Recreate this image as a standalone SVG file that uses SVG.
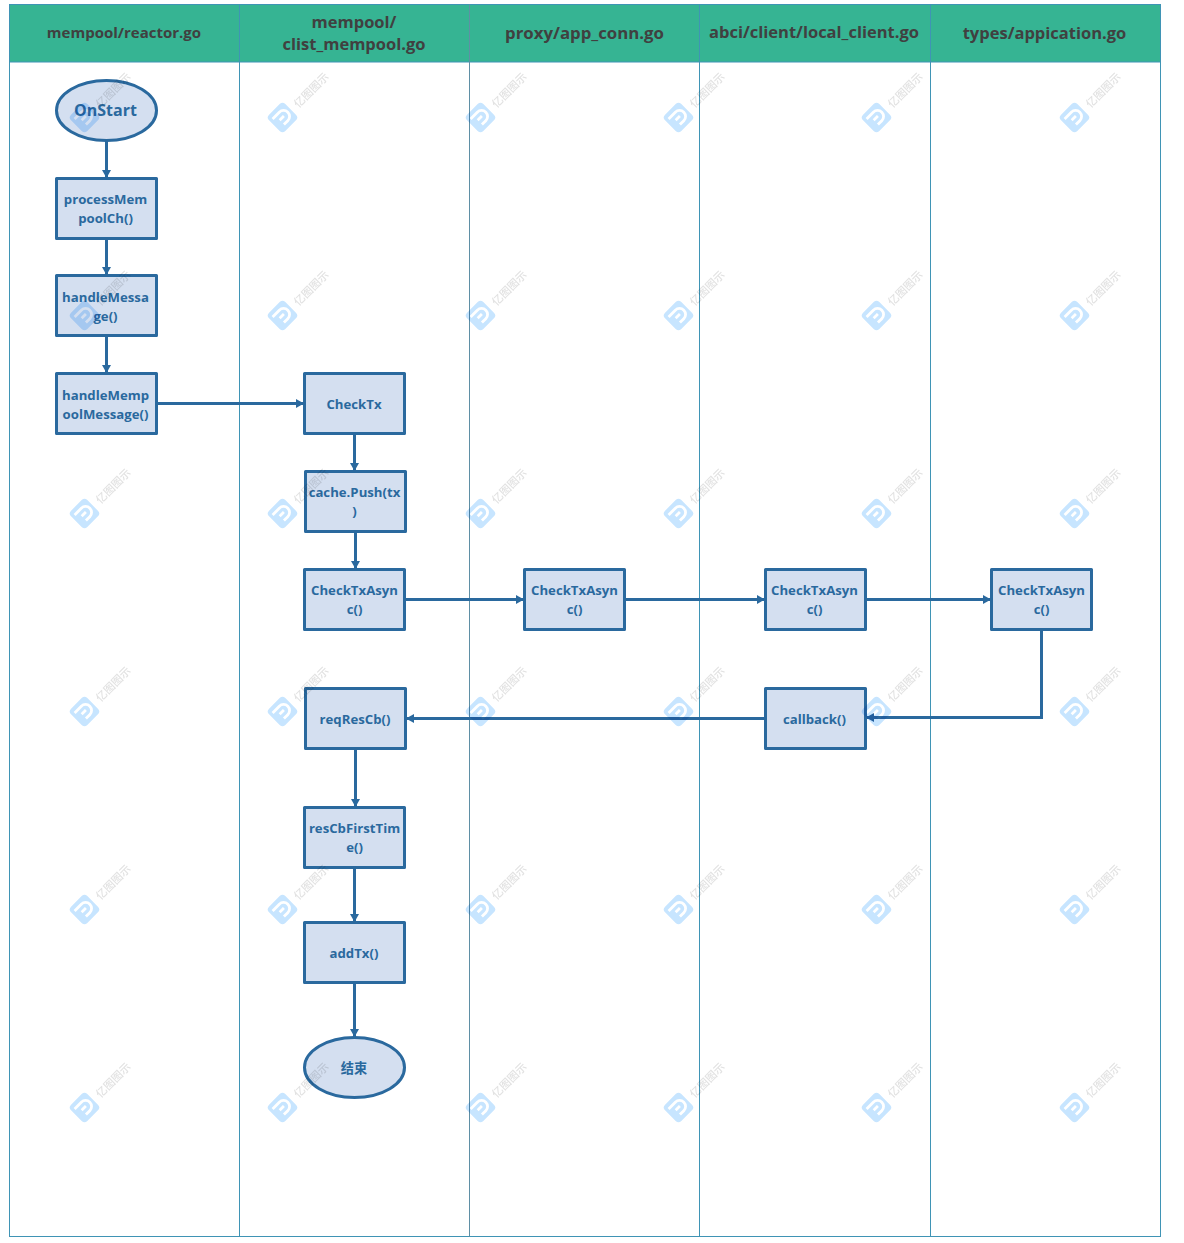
<svg xmlns="http://www.w3.org/2000/svg" width="1184" height="1243" viewBox="0 0 1184 1243">
<style>
.lane{fill:none;stroke:#3f94b5;stroke-width:1}
.hdr{font:700 16.5px "Open Sans","Noto Sans",sans-serif;fill:#404040;text-anchor:middle}
.box{fill:#d4dff0;stroke:#2a699e;stroke-width:3;stroke-linejoin:round}
.lbl{font:700 13.2px "Open Sans","Noto Sans","Noto Sans CJK SC",sans-serif;fill:#2a699e;text-anchor:middle}
.conn{fill:none;stroke:#2a699e;stroke-width:3}
.wmt{font:500 11px "Noto Sans CJK SC",sans-serif;fill:#e2e2e2}
#watermarks{mix-blend-mode:multiply}
</style>
<defs>
<marker id="arr" markerUnits="userSpaceOnUse" markerWidth="9" markerHeight="11" refX="8" refY="5.500" orient="auto"><path d="M0 1L8 5.500L0 10z" fill="#2a699e"/></marker>
<g id="wm">
<rect x="-11.500" y="-11.500" width="23" height="23" rx="4" transform="rotate(45)" fill="#c7e5ff"/>
<path d="M-8 -6H1.500A6 6 0 0 1 1.500 6H-4M-4 0H2" fill="none" stroke="#fff" stroke-width="2.800" transform="rotate(-45)"/>
<text class="wmt" transform="translate(16,-9) rotate(-45)">亿图图示</text>
</g>
</defs>
<rect width="1184" height="1243" fill="#fff"/>
<g id="swimlanes">
<rect x="9.500" y="4.500" width="1151" height="57.500" fill="#36b493"/>
<rect class="lane" x="9.500" y="4.500" width="1151" height="1232"/>
<path class="lane" d="M9.500 62H1160.500M239.500 4.500V1236.500M699.500 4.500V1236.500M930.500 4.500V1236.500"/>
<path d="M469.500 4.500V1236.500" fill="none" stroke="#5f8fa5" stroke-width="1"/>
<text class="hdr" x="124" y="38" style="font-size:15px">mempool/reactor.go</text>
<text class="hdr" x="354" y="28">mempool/</text>
<text class="hdr" x="354" y="50">clist_mempool.go</text>
<text class="hdr" x="584.500" y="39" style="font-size:16.800px">proxy/app_conn.go</text>
<text class="hdr" x="814" y="38">abci/client/local_client.go</text>
<text class="hdr" x="1044.500" y="39">types/appication.go</text>
</g>
<g id="connectors">
<path class="conn" marker-end="url(#arr)" d="M106.500 140V178"/>
<path class="conn" marker-end="url(#arr)" d="M106.500 239V275"/>
<path class="conn" marker-end="url(#arr)" d="M106.500 336V373"/>
<path class="conn" marker-end="url(#arr)" d="M157 403.500H304"/>
<path class="conn" marker-end="url(#arr)" d="M354.500 434V471"/>
<path class="conn" marker-end="url(#arr)" d="M355.500 532V569"/>
<path class="conn" marker-end="url(#arr)" d="M405 599.500H524"/>
<path class="conn" marker-end="url(#arr)" d="M625 599.500H765"/>
<path class="conn" marker-end="url(#arr)" d="M866 599.500H991"/>
<path class="conn" marker-end="url(#arr)" d="M1041.500 630V717.500H866"/>
<path class="conn" marker-end="url(#arr)" d="M765 718.500H406"/>
<path class="conn" marker-end="url(#arr)" d="M355.500 749V807"/>
<path class="conn" marker-end="url(#arr)" d="M354.500 868V922"/>
<path class="conn" marker-end="url(#arr)" d="M354.500 983V1037"/>
</g>
<g id="n-onstart"><ellipse class="box" cx="106.500" cy="110.500" rx="50" ry="30"/><text class="lbl" x="105.500" y="116" style="font-size:16px">OnStart</text></g>
<g id="n-process"><rect class="box" x="56.500" y="178.500" width="100" height="60"/><text class="lbl" x="105.500" y="204">processMem</text><text class="lbl" x="105.500" y="223">poolCh()</text></g>
<g id="n-handle"><rect class="box" x="56.500" y="275.500" width="100" height="60"/><text class="lbl" x="105.500" y="302">handleMessa</text><text class="lbl" x="105.500" y="321">ge()</text></g>
<g id="n-memp"><rect class="box" x="56.500" y="373.500" width="100" height="60"/><text class="lbl" x="105.500" y="400">handleMemp</text><text class="lbl" x="105.500" y="419">oolMessage()</text></g>
<g id="n-checktx"><rect class="box" x="304.500" y="373.500" width="100" height="60"/><text class="lbl" x="354" y="409">CheckTx</text></g>
<g id="n-cache"><rect class="box" x="305.500" y="471.500" width="100" height="60"/><text class="lbl" x="354.500" y="497">cache.Push(tx</text><text class="lbl" x="354.500" y="516">)</text></g>
<g id="n-async1"><rect class="box" x="304.500" y="569.500" width="100" height="60"/><text class="lbl" x="354.500" y="595">CheckTxAsyn</text><text class="lbl" x="354.500" y="614">c()</text></g>
<g id="n-async2"><rect class="box" x="524.500" y="569.500" width="100" height="60"/><text class="lbl" x="574.500" y="595">CheckTxAsyn</text><text class="lbl" x="574.500" y="614">c()</text></g>
<g id="n-async3"><rect class="box" x="765.500" y="569.500" width="100" height="60"/><text class="lbl" x="814.500" y="595">CheckTxAsyn</text><text class="lbl" x="814.500" y="614">c()</text></g>
<g id="n-async4"><rect class="box" x="991.500" y="569.500" width="100" height="60"/><text class="lbl" x="1041.500" y="595">CheckTxAsyn</text><text class="lbl" x="1041.500" y="614">c()</text></g>
<g id="n-reqres"><rect class="box" x="305.500" y="688.500" width="100" height="60"/><text class="lbl" x="355" y="724">reqResCb()</text></g>
<g id="n-callback"><rect class="box" x="765.500" y="688.500" width="100" height="60"/><text class="lbl" x="814.500" y="724">callback()</text></g>
<g id="n-rescb"><rect class="box" x="304.500" y="807.500" width="100" height="60"/><text class="lbl" x="354.500" y="833">resCbFirstTim</text><text class="lbl" x="354.500" y="852">e()</text></g>
<g id="n-addtx"><rect class="box" x="304.500" y="922.500" width="100" height="60"/><text class="lbl" x="354" y="958">addTx()</text></g>
<g id="n-end"><ellipse class="box" cx="354.500" cy="1067.500" rx="50" ry="30"/><text class="lbl" x="354" y="1073">结束</text></g>
<g id="watermarks">
<use href="#wm" x="84.500" y="117.500"/><use href="#wm" x="282.500" y="117.500"/><use href="#wm" x="480.500" y="117.500"/><use href="#wm" x="678.500" y="117.500"/><use href="#wm" x="876.500" y="117.500"/><use href="#wm" x="1074.500" y="117.500"/>
<use href="#wm" x="84.500" y="315.500"/><use href="#wm" x="282.500" y="315.500"/><use href="#wm" x="480.500" y="315.500"/><use href="#wm" x="678.500" y="315.500"/><use href="#wm" x="876.500" y="315.500"/><use href="#wm" x="1074.500" y="315.500"/>
<use href="#wm" x="84.500" y="513.500"/><use href="#wm" x="282.500" y="513.500"/><use href="#wm" x="480.500" y="513.500"/><use href="#wm" x="678.500" y="513.500"/><use href="#wm" x="876.500" y="513.500"/><use href="#wm" x="1074.500" y="513.500"/>
<use href="#wm" x="84.500" y="711.500"/><use href="#wm" x="282.500" y="711.500"/><use href="#wm" x="480.500" y="711.500"/><use href="#wm" x="678.500" y="711.500"/><use href="#wm" x="876.500" y="711.500"/><use href="#wm" x="1074.500" y="711.500"/>
<use href="#wm" x="84.500" y="909.500"/><use href="#wm" x="282.500" y="909.500"/><use href="#wm" x="480.500" y="909.500"/><use href="#wm" x="678.500" y="909.500"/><use href="#wm" x="876.500" y="909.500"/><use href="#wm" x="1074.500" y="909.500"/>
<use href="#wm" x="84.500" y="1107.500"/><use href="#wm" x="282.500" y="1107.500"/><use href="#wm" x="480.500" y="1107.500"/><use href="#wm" x="678.500" y="1107.500"/><use href="#wm" x="876.500" y="1107.500"/><use href="#wm" x="1074.500" y="1107.500"/>
</g>
</svg>
